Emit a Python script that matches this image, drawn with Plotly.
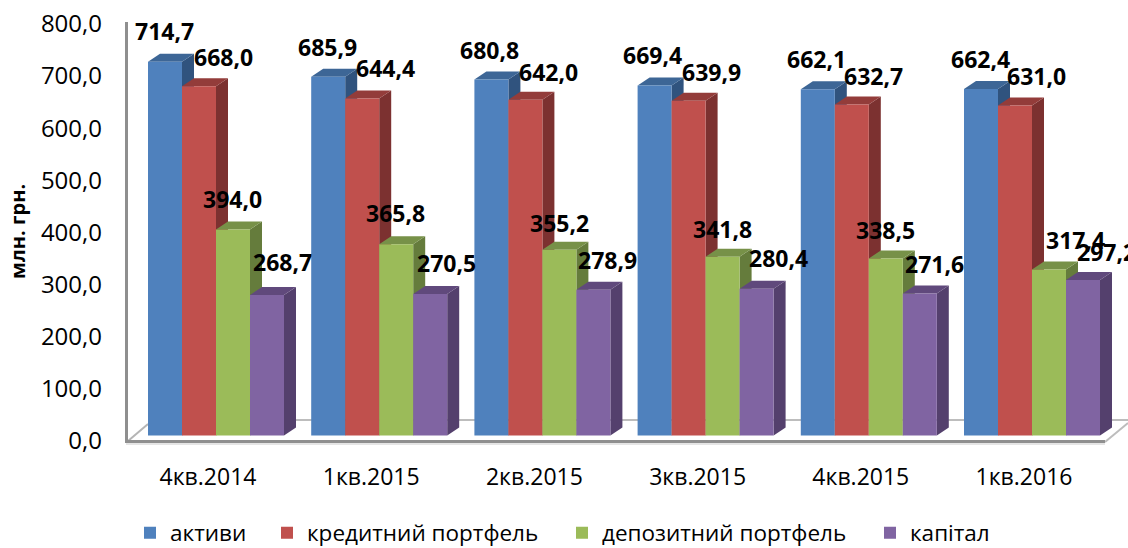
import plotly.graph_objects as go

categories = ["4кв.2014", "1кв.2015", "2кв.2015", "3кв.2015", "4кв.2015", "1кв.2016"]
aktyvy = [714.7, 685.9, 680.8, 669.4, 662.1, 662.4]
kredyty = [668.0, 644.4, 642.0, 639.9, 632.7, 631.0]
depozyty = [394.0, 365.8, 355.2, 341.8, 338.5, 317.4]
kapital = [268.7, 270.5, 278.9, 280.4, 271.6, 297.2]
y_ticks = [0, 100, 200, 300, 400, 500, 600, 700, 800]

names = ["активи", "кредитний портфель", "депозитний портфель", "капітал"]
series = [aktyvy, kredyty, depozyty, kapital]
front = ["#4F81BD", "#C0504D", "#9BBB59", "#8064A2"]
top = ["#3D6696", "#933C3A", "#779148", "#60497C"]
side = ["#30537E", "#7C3130", "#657C3C", "#54406D"]

# label offsets from the top centre of each bar, pixels
label_dx = [[-1, -1, -2, -2, -1, -1], [24, 23, 23, 23, 22, 21], [-1, -1, 0, 0, 0, 26], [15, 16, 14, 22, 15, 23]]
label_dy = [31, 30, 29, 30, 30, 30, 29, 30, 28, 29, 29, 29, 30, 31, 27, 28, 28, 30, 33, 31, 30, 31, 29, 28]
legend_text_px = [170, 307, 602, 910]

W, H = 1128, 548
L, T, B = 128, 10, 445
STEP = 163.2
CENTER0 = 216
BAR_PX = 34
PX_PER_UNIT = 0.523
BASE_PX = 435.5
DEPTH_X = 12
DEPTH_Y = 8
FONT = "Open Sans"

bw = BAR_PX / STEP
dx = DEPTH_X / STEP
dy = DEPTH_Y / PX_PER_UNIT
xs = list(range(len(categories)))


def px(x):
    return (x - L) / (W - L)


def py(y):
    return (B - y) / (B - T)


fig = go.Figure()
legend_ids = ["legend", "legend2", "legend3", "legend4"]
for s, (name, vals) in enumerate(zip(names, series)):
    fig.add_trace(go.Bar(x=xs, y=vals, name=name, marker=dict(color=front[s], line=dict(width=0)),
                         hoverinfo="skip", legend=legend_ids[s]))

# keeps the labelled value axis alive
fig.add_trace(go.Scatter(x=[xs[0]], y=[y_ticks[0]], yaxis="y2", mode="markers",
                         marker=dict(opacity=0), showlegend=False, hoverinfo="skip"))

shapes = []
# walls and floor, in page pixels
for (x0, y0, x1, y1, color, width) in [
    (128, 441, 148, 424, "#b5b5b5", 2),
    (148, 420, 1128, 420, "#bdbdbd", 2),
    (1105, 442, 1128, 423, "#bdbdbd", 2),
    (126, 444, 1105, 444, "#dcdcdc", 1.5),
    (126.5, 22, 126.5, 443, "#8f8f8f", 3),
    (125, 441.5, 1105, 441.5, "#8f8f8f", 3),
]:
    shapes.append(dict(type="line", xref="paper", yref="paper", x0=px(x0), y0=py(y0), x1=px(x1), y1=py(y1),
                       line=dict(color=color, width=width), layer="below"))

# depth faces follow each bar's value
for s, vals in enumerate(series):
    for i, v in zip(xs, vals):
        x0 = i + (s - 2) * bw
        x1 = x0 + bw
        shapes.append(dict(type="path", xref="x", yref="y", layer="below", line=dict(width=0), fillcolor=side[s],
                           path=f"M{x1},0 L{x1 + dx},{dy} L{x1 + dx},{v + dy} L{x1},{v} Z"))
        shapes.append(dict(type="path", xref="x", yref="y", layer="below", line=dict(width=0), fillcolor=top[s],
                           path=f"M{x0},{v} L{x0 + dx},{v + dy} L{x1 + dx},{v + dy} L{x1},{v} Z"))

annotations = []
n = 0
for s, vals in enumerate(series):
    for i, v in zip(xs, vals):
        annotations.append(dict(x=i + (s - 1.5) * bw, y=v, xref="x", yref="y", text=f"{v:.1f}".replace(".", ","),
                                showarrow=False, xanchor="center", yanchor="middle",
                                xshift=label_dx[s][i], yshift=label_dy[n],
                                font=dict(family=FONT, size=23, color="#000000", weight="bold")))
        n += 1

annotations.append(dict(x=px(17), y=py(232), xref="paper", yref="paper", text="<b>млн. грн.</b>", textangle=-90,
                        xanchor="center", yanchor="middle",
                        showarrow=False, font=dict(family=FONT, size=20, color="#000000")))

y_bottom = (BASE_PX - B) / PX_PER_UNIT
y_top = (BASE_PX - T) / PX_PER_UNIT
Y2_UNIT = 0.5213
y2_bottom = (441 - B) / Y2_UNIT
y2_top = (441 - T) / Y2_UNIT

legend_style = dict(orientation="h", xanchor="left", y=py(533), yanchor="middle",
                    font=dict(family=FONT, size=22.5), bgcolor="rgba(0,0,0,0)")
legends = {}
for lid, lx in zip(legend_ids, legend_text_px):
    # text sits 40 px right of the legend's own left edge
    legends[lid] = dict(x=px(lx - 40), **legend_style)

fig.update_layout(
    width=W, height=H, autosize=False,
    margin=dict(l=L, r=0, t=T, b=H - B, pad=0, autoexpand=False),
    paper_bgcolor="#ffffff", plot_bgcolor="rgba(0,0,0,0)",
    separators=", ",
    barmode="group", bargap=1 - 4 * bw, bargroupgap=0,
    shapes=shapes, annotations=annotations,
    font=dict(family=FONT, color="#000000"),
    xaxis=dict(range=[(L - CENTER0) / STEP, (W - CENTER0) / STEP], tickmode="array",
               tickvals=[i - 8 / STEP for i in xs], ticktext=categories, showgrid=False, zeroline=False,
               showline=False, ticks="", ticklabelstandoff=16, tickfont=dict(family=FONT, size=23)),
    yaxis=dict(range=[y_bottom, y_top], visible=False, fixedrange=True),
    yaxis2=dict(range=[y2_bottom, y2_top], overlaying="y", side="left", tickmode="array", tickvals=y_ticks,
                tickformat=".1f", showgrid=False, zeroline=False, showline=False, ticks="",
                ticklabelstandoff=25, tickfont=dict(family=FONT, size=24)),
    **legends,
)

fig.write_html("out.html", config={"displayModeBar": False},
               post_script="document.body.style.margin='0';window.dispatchEvent(new Event('resize'));")
